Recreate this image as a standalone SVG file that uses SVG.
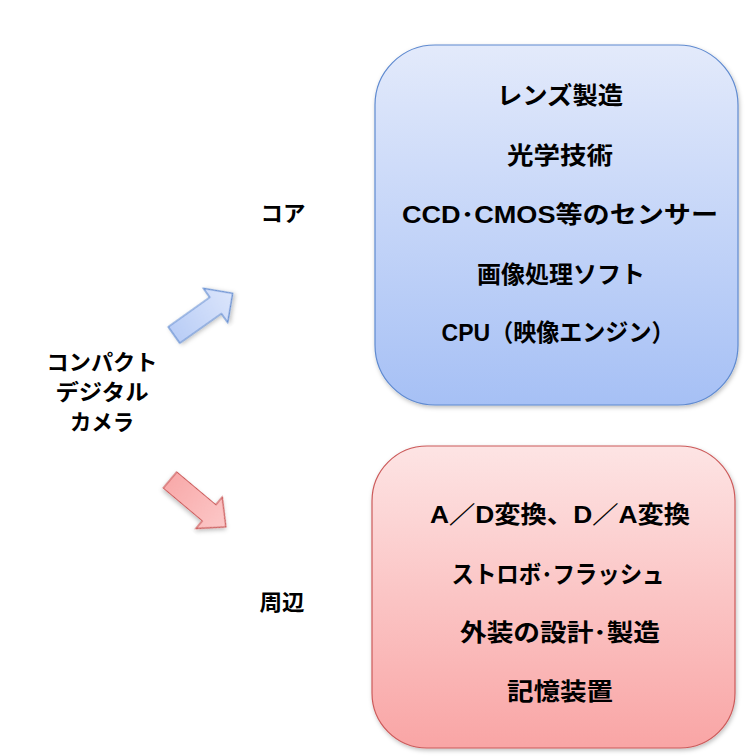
<svg xmlns="http://www.w3.org/2000/svg" width="756" height="756" viewBox="0 0 756 756">
<defs>
<linearGradient id="gBlue" x1="0" y1="0" x2="0" y2="1">
<stop offset="0" stop-color="#e3eafb"/>
<stop offset="1" stop-color="#a6c0f5"/>
</linearGradient>
<linearGradient id="gRed" x1="0" y1="0" x2="0" y2="1">
<stop offset="0" stop-color="#fde4e4"/>
<stop offset="1" stop-color="#f9a5a5"/>
</linearGradient>
<linearGradient id="gBlueArrow" x1="0" y1="0" x2="1" y2="0">
<stop offset="0" stop-color="#b9cdf6"/>
<stop offset="1" stop-color="#dbe5fb"/>
</linearGradient>
<linearGradient id="gRedArrow" x1="0" y1="0" x2="1" y2="0">
<stop offset="0" stop-color="#f8aaaa"/>
<stop offset="1" stop-color="#fcc8c8"/>
</linearGradient>
<filter id="sh" x="-10%" y="-10%" width="120%" height="120%">
<feDropShadow dx="1" dy="2" stdDeviation="2" flood-color="#000" flood-opacity="0.25"/>
</filter>
</defs>
<style>
text{font-family:"Liberation Sans","Noto Sans CJK JP",sans-serif;font-weight:bold;font-size:22px;fill:#000;text-anchor:middle}
.b{font-size:24px}
</style>
<rect width="756" height="756" fill="#fff"/>
<g id="source">
<text x="102" y="370" textLength="111" lengthAdjust="spacingAndGlyphs">コンパクト</text>
<text x="102" y="400" textLength="93" lengthAdjust="spacingAndGlyphs">デジタル</text>
<text x="102" y="430" textLength="64" lengthAdjust="spacingAndGlyphs">カメラ</text>
</g>
<g id="label-core"><text x="283" y="221" textLength="45" lengthAdjust="spacingAndGlyphs">コア</text></g>
<g id="label-periphery"><text x="282" y="610" textLength="45" lengthAdjust="spacingAndGlyphs">周辺</text></g>
<g id="connectors">
<polygon transform="translate(174,335) rotate(-35.4)" points="0,-10 51,-10 51,-21 72,0 51,21 51,10 0,10" fill="url(#gBlueArrow)" stroke="#5f8ad0" stroke-width="1.2" stroke-linejoin="miter" filter="url(#sh)"/>
<polygon transform="translate(170,480) rotate(40)" points="0,-10.5 51,-10.5 51,-20.5 73,0 51,20.5 51,10.5 0,10.5" fill="url(#gRedArrow)" stroke="#cc5a5a" stroke-width="1.2" stroke-linejoin="miter" filter="url(#sh)"/>
</g>
<g id="core">
<rect x="375" y="45" width="363" height="360" rx="60" ry="60" fill="url(#gBlue)" stroke="#5f8ad0" stroke-width="1.2" filter="url(#sh)"/>
<text class="b" x="560" y="104" textLength="126" lengthAdjust="spacingAndGlyphs">レンズ製造</text>
<text class="b" x="560" y="164" textLength="106" lengthAdjust="spacingAndGlyphs">光学技術</text>
<text class="b" x="560" y="223" textLength="316" lengthAdjust="spacingAndGlyphs">CCD･CMOS等のセンサー</text>
<text class="b" x="561" y="283" textLength="168" lengthAdjust="spacingAndGlyphs">画像処理ソフト</text>
<text class="b" x="558" y="341" textLength="233" lengthAdjust="spacingAndGlyphs">CPU（映像エンジン）</text>
</g>
<g id="periphery">
<rect x="372" y="446" width="363" height="302" rx="55" ry="55" fill="url(#gRed)" stroke="#cc5a5a" stroke-width="1.2" filter="url(#sh)"/>
<text class="b" x="560" y="523" textLength="260" lengthAdjust="spacingAndGlyphs">A／D変換、D／A変換</text>
<text class="b" x="558" y="583" textLength="213" lengthAdjust="spacingAndGlyphs">ストロボ･フラッシュ</text>
<text class="b" x="560" y="641" textLength="200" lengthAdjust="spacingAndGlyphs">外装の設計･製造</text>
<text class="b" x="560" y="700" textLength="106" lengthAdjust="spacingAndGlyphs">記憶装置</text>
</g>
</svg>
